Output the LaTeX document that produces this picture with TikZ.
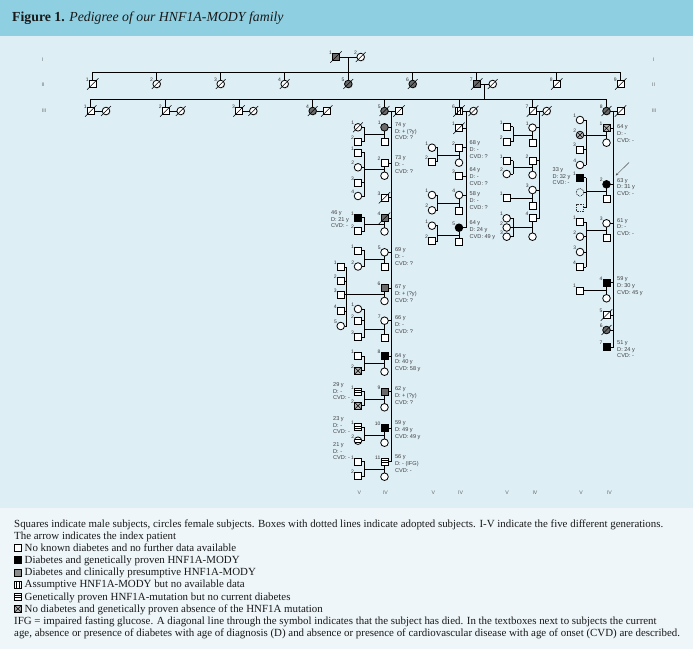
\documentclass[tikz,border=0pt]{standalone}
\usepackage{fontspec}
\setmainfont{Liberation Serif}
\newfontfamily\pedfont{Liberation Sans}
\usetikzlibrary{calc,arrows.meta,shadows}
\definecolor{hdr}{HTML}{8ED0E2}
\definecolor{panel}{HTML}{DDEEF5}
\definecolor{legbg}{HTML}{EEF6F9}
\definecolor{symgray}{HTML}{6A6A6A}
\tikzset{
 ln/.style={line width=0.9pt, draw=black},
 sym/.style={draw=black, line width=0.8pt, fill=white, inner sep=0pt, outer sep=0pt},
 M/.style={sym, rectangle, minimum size=7pt},
 F/.style={sym, circle, minimum size=7.6pt},
 blk/.style={fill=black},
 gry/.style={fill=symgray},
 vstr/.style={path picture={\draw[line width=0.75pt]
   ([xshift=2.3pt]path picture bounding box.south west) -- ([xshift=2.3pt]path picture bounding box.north west)
   ([xshift=-2.3pt]path picture bounding box.south east) -- ([xshift=-2.3pt]path picture bounding box.north east);}},
 hstr/.style={path picture={\draw[line width=0.75pt]
   ([yshift=2.4pt]path picture bounding box.south west) -- ([yshift=2.4pt]path picture bounding box.south east)
   ([yshift=-2.4pt]path picture bounding box.north west) -- ([yshift=-2.4pt]path picture bounding box.north east);}},
 xed/.style={fill=black!30, path picture={\draw[line width=0.6pt]
   (path picture bounding box.south west) -- (path picture bounding box.north east)
   (path picture bounding box.north west) -- (path picture bounding box.south east);}},
 adopt/.style={fill=none, draw=black!80, dash pattern=on 0.8pt off 0.9pt},
 num/.style={label={[lab]150:#1}},
 lab/.style={font=\pedfont\fontsize{5}{5}\selectfont, text=black!80, inner sep=0.4pt},
 ann/.style={font=\pedfont\fontsize{5.6}{6.8}\selectfont, text=black!75, align=left, anchor=north west, inner sep=0pt},
 slash/.style={line width=0.6pt, draw=black},
 shd/.style={drop shadow={shadow xshift=0.7pt, shadow yshift=-0.7pt, opacity=0.35}},
 genl/.style={font=\pedfont\fontsize{5.2}{5.2}\selectfont, text=black!60, inner sep=0pt},
 legtxt/.style={font=\fontsize{10.9}{12}\selectfont, anchor=base west, inner sep=0pt, text=black!90},
 legsym/.style={line width=0.6pt, minimum size=7pt},
}
\newcommand\PM[4]{\node[M,#4] (#1) at (#2,#3) {};}
\newcommand\PF[4]{\node[F,#4] (#1) at (#2,#3) {};}
\newcommand\Dd[1]{\draw[slash] ([shift={(-2.2pt,-2.2pt)}]#1.south west) -- ([shift={(2.2pt,2.2pt)}]#1.north east);}
% #1 IV person, #2 spouse, #3 children-line coordinate, #4 children
\newcommand\Kids[4]{%
 \draw[ln] (#1) -- (#2);
 \coordinate (#1k) at ($(#1)!0.5!(#2)$);
 \draw[ln] (#1k) -- (#1k -| #3);
 \foreach \cc in {#4} {\draw[ln] (\cc.east) -- (\cc -| #3);}
}
\newcommand\Ann[6]{\node[ann] (#1) at (#2,#3) {#4\\#5\\#6};}
\begin{document}
\begin{tikzpicture}[x=1pt,y=-1pt]
\useasboundingbox (0,0) rectangle (693,649);
\fill[hdr] (0,0) rectangle (693,36);
\fill[panel] (0,36) rectangle (693,508);
\fill[legbg] (0,508) rectangle (693,649);
\node[anchor=base west, font=\fontsize{13.8}{15}\selectfont, inner sep=0pt, text=black!90] (title) at (12,21.5)
  {\textbf{Figure 1.} \textit{Pedigree of our HNF1A-MODY family}};

% generation labels
\node[genl] (gIl) at (42.5,59.5) {I};   \node[genl] (gIr) at (653.5,59.5) {I};
\node[genl] (gIIl) at (43,84.3) {II};   \node[genl] (gIIr) at (653.5,84.3) {II};
\node[genl] (gIIIl) at (44,111) {III};  \node[genl] (gIIIr) at (654,111) {III};

% ---------- Generation I
\PM{I1}{336}{57}{gry,num=1,shd}
\PF{I2}{360.7}{57}{num=2,shd}
\coordinate (mI) at (348.3,57);
\coordinate (sIIa) at (92.7,72.3);
\coordinate (sIIb) at (620.7,72.3);
\draw[ln] (I1) -- (I2);
\draw[ln] (mI) -- (mI |- sIIa);
\draw[ln] (sIIa) -- (sIIb);

% ---------- Generation II
\PM{II1}{92.7}{84}{num=1,shd}
\PF{II2}{156.7}{84}{num=2,shd}
\PF{II3}{220.7}{84}{num=3,shd}
\PF{II4}{284.7}{84}{num=4,shd}
\PF{II5}{348.3}{84}{gry,num=5,shd}
\PF{II6}{412.7}{84}{gry,num=6,shd}
\PM{II7}{476.7}{84}{gry,num=7,shd}
\PF{II7s}{492.7}{84}{shd}
\PM{II8}{556.7}{84}{num=8,shd}
\PM{II9}{620.7}{84}{num=9,shd}
\foreach \k in {II1,II2,II3,II4,II5,II6,II7,II8,II9} {\draw[ln] (\k |- sIIa) -- (\k);}
\draw[ln] (II7) -- (II7s);
\coordinate (mII) at (484.7,84);
\coordinate (sIIIa) at (90.7,99.3);
\coordinate (sIIIb) at (606.5,99.3);
\draw[ln] (mII) -- (mII |- sIIIa);
\draw[ln] (sIIIa) -- (sIIIb);

% ---------- Generation III
\PM{III1}{90.7}{111}{num=1,shd}   \PF{III1s}{106}{111}{shd}
\PM{III2}{165.7}{111}{num=2,shd}  \PF{III2s}{180.7}{111}{shd}
\PM{III3}{239}{111}{num=3,shd}    \PF{III3s}{253.3}{111}{shd}
\PF{III4}{312.7}{111}{gry,num=4,shd} \PM{III4s}{326.7}{111}{shd}
\PF{III5}{384.5}{111}{gry,num=5,shd} \PM{III5s}{399}{111}{shd}
\PM{III6}{459}{111}{vstr,num=6,shd}  \PF{III6s}{473.5}{111}{shd}
\PM{III7}{532.5}{111}{num=7,shd}  \PF{III7s}{546.7}{111}{shd}
\PF{III8}{606.5}{111}{gry,num=8,shd} \PM{III8s}{620.5}{111}{shd}
\foreach \k in {III1,III2,III3,III4,III5,III6,III7,III8} {\draw[ln] (\k |- sIIIa) -- (\k); \draw[ln] (\k) -- (\k s);}

% ---------- column lines
\coordinate (c1) at (391.75,111);
\coordinate (c2) at (466.25,111);
\coordinate (c3) at (539.6,111);
\coordinate (c4) at (613.5,111);
\coordinate (cl1) at (364.5,0);
\coordinate (cl1b) at (346.5,0);
\coordinate (cl2) at (437.5,0);
\coordinate (cl3) at (513,0);
\coordinate (cl4) at (586,0);

% ---------- Column 1
\PF{A1}{384.5}{127.3}{gry,num=1}  \PM{A1s}{384.5}{141.7}{}
\PF{A1a}{358}{127.3}{num=1}       \PM{A1b}{358}{141.7}{num=2}
\PM{A2}{384.5}{163.3}{num=2}      \PF{A2s}{384.5}{175.7}{}
\PM{A2a}{358}{152.7}{num=1} \PF{A2b}{358}{167.3}{num=2} \PM{A2c}{358}{182.7}{num=3} \PF{A2d}{358}{196}{num=4}
\PM{A3}{384.5}{197.7}{num=3}
\PM{A4}{384.5}{218.3}{gry,num=4}  \PF{A4s}{384.5}{231.5}{}
\PM{A4a}{358}{217.7}{blk,num=1}   \PM{A4b}{358}{231}{num=2}
\PF{A5}{384.5}{252.3}{num=5}      \PM{A5s}{384.5}{267.3}{}
\PM{A5a}{358}{250.7}{num=1}       \PF{A5b}{358}{266.5}{num=2}
\PM{A6}{384.5}{288.3}{gry,num=6}  \PF{A6s}{384.5}{301}{}
\PM{A6a}{340.7}{267.3}{num=1} \PM{A6b}{340.7}{281}{num=2} \PM{A6c}{340.7}{294.7}{num=3}
\PM{A6d}{340.7}{311}{num=4} \PF{A6e}{340.7}{326}{num=5}
\PF{A7}{384.5}{320.7}{num=7}      \PM{A7s}{384.5}{338.3}{}
\PF{A7a}{358}{309}{num=1} \PM{A7b}{358}{320.7}{num=2} \PM{A7c}{358}{337.3}{num=3}
\PM{A8}{384.5}{356}{blk,num=8}    \PF{A8s}{384.5}{371.7}{}
\PM{A8a}{358}{356}{num=1}         \PM{A8b}{358}{370.7}{xed,num=2}
\PM{A9}{384.5}{391.7}{gry,num=9}  \PF{A9s}{384.5}{407.3}{}
\PM{A9a}{358}{391.7}{hstr,num=1}  \PM{A9b}{358}{405.7}{xed,num=2}
\PM{A10}{384.5}{428.3}{blk,num=10} \PF{A10s}{384.5}{442.7}{}
\PM{A10a}{358}{427.3}{hstr,num=1} \PF{A10b}{358}{440.7}{hstr,num=2}
\PM{A11}{384.5}{461.7}{hstr,num=11} \PF{A11s}{384.5}{476.7}{}
\PM{A11a}{358}{461.7}{num=1}      \PM{A11b}{358}{476}{num=2}
\draw[ln] (c1) -- (c1 |- A11);
\foreach \k in {A1,A2,A3,A4,A5,A6,A7,A8,A9,A10,A11} {\draw[ln] (\k.east) -- (\k -| c1);}
\Kids{A1}{A1s}{cl1}{A1a,A1b}   \draw[ln] (A1a -| cl1) -- (A1b -| cl1);
\Kids{A2}{A2s}{cl1}{A2a,A2b,A2c,A2d} \draw[ln] (A2a -| cl1) -- (A2d -| cl1);
\Kids{A4}{A4s}{cl1}{A4a,A4b}   \draw[ln] (A4a -| cl1) -- (A4b -| cl1);
\Kids{A5}{A5s}{cl1}{A5a,A5b}   \draw[ln] (A5a -| cl1) -- (A5b -| cl1);
\Kids{A6}{A6s}{cl1b}{A6a,A6b,A6c,A6d,A6e} \draw[ln] (A6a -| cl1b) -- (A6e -| cl1b);
\Kids{A7}{A7s}{cl1}{A7a,A7b,A7c} \draw[ln] (A7a -| cl1) -- (A7c -| cl1);
\Kids{A8}{A8s}{cl1}{A8a,A8b}   \draw[ln] (A8a -| cl1) -- (A8b -| cl1);
\Kids{A9}{A9s}{cl1}{A9a,A9b}   \draw[ln] (A9a -| cl1) -- (A9b -| cl1);
\Kids{A10}{A10s}{cl1}{A10a,A10b} \draw[ln] (A10a -| cl1) -- (A10b -| cl1);
\Kids{A11}{A11s}{cl1}{A11a,A11b} \draw[ln] (A11a -| cl1) -- (A11b -| cl1);

% ---------- Column 2
\PM{B1}{459}{128.3}{num=1}
\PM{B2}{459}{147.7}{num=2}  \PF{B2s}{459}{162.7}{}
\PF{B2a}{432}{147.7}{num=1} \PM{B2b}{432}{161.7}{num=2}
\PM{B3}{459}{176}{num=3}
\PF{B4}{459}{195}{num=4}    \PM{B4s}{459}{211}{}
\PF{B4a}{432}{195}{num=1}   \PF{B4b}{432}{210.3}{num=2}
\PF{B5}{459}{227.7}{blk,num=5} \PM{B5s}{459}{242.3}{}
\PF{B5a}{432}{225.7}{num=1} \PM{B5b}{432}{241}{num=2}
\draw[ln] (c2) -- (c2 |- B5);
\foreach \k in {B1,B2,B3,B4,B5} {\draw[ln] (\k.east) -- (\k -| c2);}
\Kids{B2}{B2s}{cl2}{B2a,B2b} \draw[ln] (B2a -| cl2) -- (B2b -| cl2);
\Kids{B4}{B4s}{cl2}{B4a,B4b} \draw[ln] (B4a -| cl2) -- (B4b -| cl2);
\Kids{B5}{B5s}{cl2}{B5a,B5b} \draw[ln] (B5a -| cl2) -- (B5b -| cl2);

% ---------- Column 3
\PF{C1}{532.5}{127.7}{num=1}  \PM{C1s}{532.5}{142.7}{}
\PM{C1a}{506.7}{126.7}{num=1} \PM{C1b}{506.7}{141.7}{num=2}
\PM{C2}{532.5}{160.7}{num=2}  \PF{C2s}{532.5}{175}{}
\PM{C2a}{506.7}{160.7}{num=1} \PF{C2b}{506.7}{174}{num=2}
\PF{C3}{532.5}{190}{num=3}    \PM{C3s}{532.5}{206}{}
\PM{C3a}{506.7}{198}{num=1}
\PM{C4}{532.5}{218.3}{num=4}  \PF{C4s}{532.5}{236.7}{}
\PF{C4a}{506.7}{218.3}{num=1} \PF{C4b}{506.7}{227.5}{num=2} \PF{C4c}{506.7}{236.7}{num=3}
\draw[ln] (c3) -- (c3 |- C4);
\foreach \k in {C1,C2,C3,C4} {\draw[ln] (\k.east) -- (\k -| c3);}
\Kids{C1}{C1s}{cl3}{C1a,C1b} \draw[ln] (C1a -| cl3) -- (C1b -| cl3);
\Kids{C2}{C2s}{cl3}{C2a,C2b} \draw[ln] (C2a -| cl3) -- (C2b -| cl3);
\draw[ln] (C3) -- (C3s);
\coordinate (C3k) at ($(C3)!0.5!(C3s)$);
\draw[ln] (C3a.east) -- (C3k);
\Kids{C4}{C4s}{cl3}{C4a,C4b,C4c} \draw[ln] (C4a -| cl3) -- (C4c -| cl3);

% ---------- Column 4
\PM{D1}{606.5}{128.3}{xed,num=1} \PF{D1s}{606.5}{142.7}{}
\PF{D1a}{580}{120}{num=1} \PF{D1b}{580}{135}{xed,num=2} \PM{D1c}{580}{149.5}{num=3} \PF{D1d}{580}{165}{num=4}
\PF{D2}{606.5}{184.3}{blk,num=2} \PM{D2s}{606.5}{199}{}
\PM{D2a}{580}{177.7}{blk,num=1} \PF{D2b}{580}{192.3}{adopt} \PM{D2c}{580}{207.7}{adopt}
\PF{D3}{606.5}{223.3}{num=3} \PM{D3s}{606.5}{238.3}{}
\PM{D3a}{580}{222.3}{num=1} \PF{D3b}{580}{236.7}{num=2} \PF{D3c}{580}{252}{num=3} \PM{D3d}{580}{267.3}{num=4}
\PM{D4}{606.5}{282.7}{blk,num=4} \PF{D4s}{606.5}{298.3}{}
\PM{D4a}{580}{290.5}{num=1}
\PM{D5}{606.5}{315}{num=5}
\PF{D6}{606.5}{330}{gry,num=6}
\PM{D7}{606.5}{347.3}{blk,num=7}
\draw[ln] (c4) -- (c4 |- D7);
\foreach \k in {D1,D2,D3,D4,D5,D6,D7} {\draw[ln] (\k.east) -- (\k -| c4);}
\Kids{D1}{D1s}{cl4}{D1a,D1b,D1c,D1d} \draw[ln] (D1a -| cl4) -- (D1d -| cl4);
\Kids{D2}{D2s}{cl4}{D2a,D2b,D2c} \draw[ln] (D2a -| cl4) -- (D2c -| cl4);
\Kids{D3}{D3s}{cl4}{D3a,D3b,D3c,D3d} \draw[ln] (D3a -| cl4) -- (D3d -| cl4);
\draw[ln] (D4) -- (D4s);
\coordinate (D4k) at ($(D4)!0.5!(D4s)$);
\draw[ln] (D4a.east) -- (D4k);
% index patient arrow
\coordinate (arrS) at (629,162.5);
\coordinate (arrE) at (615.8,175.5);
\draw[-{Stealth[length=2.6pt,width=2.2pt]}, line width=0.45pt, draw=black!70] (arrS) -- (arrE);

% ---------- deceased slashes
\foreach \k in {I1,I2,II1,II2,II3,II4,II5,II6,II7,II7s,II8,II9,
  III1,III1s,III2,III2s,III3,III3s,III4,III4s,III5,III5s,III6,III6s,III7,III7s,III8,III8s,
  A1a,A3,A4,B1,D5,D6} {\Dd{\k}}

% ---------- annotations
\Ann{tA1}{394.8}{122.3}{74 y}{D: + (?y)}{CVD: ?}
\Ann{tA2}{394.8}{155.5}{73 y}{D: -}{CVD: ?}
\Ann{tA5}{394.8}{247.3}{69 y}{D: -}{CVD: ?}
\Ann{tA6}{394.8}{284.3}{67 y}{D: + (?y)}{CVD: ?}
\Ann{tA7}{394.8}{315.8}{66 y}{D: -}{CVD: ?}
\Ann{tA8}{394.8}{353}{64 y}{D: 40 y}{CVD: 58 y}
\Ann{tA9}{394.8}{386.7}{62 y}{D: + (?y)}{CVD: ?}
\Ann{tA10}{394.8}{420.3}{59 y}{D: 49 y}{CVD: 49 y}
\Ann{tA11}{394.8}{454.7}{56 y}{D: - (IFG)}{CVD: -}
\Ann{tA4a}{331}{210.2}{46 y}{D: 21 y}{CVD: -}
\Ann{tA9a}{333}{382.2}{29 y}{D: -}{CVD: -}
\Ann{tA10a}{333}{416.2}{23 y}{D: -}{CVD: -}
\Ann{tA10b}{333}{442.2}{21 y}{D: -}{CVD: -}
\Ann{tB2}{469.5}{140.7}{68 y}{D: -}{CVD: ?}
\Ann{tB3}{469.5}{167.5}{64 y}{D: -}{CVD: ?}
\Ann{tB4}{469.5}{191.5}{58 y}{D: -}{CVD: ?}
\Ann{tB5}{469.5}{220.3}{64 y}{D: 24 y}{CVD: 49 y}
\Ann{tD1}{617}{124.5}{64 y}{D: -}{CVD: -}
\Ann{tD2}{617}{178}{63 y}{D: 31 y}{CVD: -}
\Ann{tD3}{617}{218}{61 y}{D: -}{CVD: -}
\Ann{tD4}{617}{276.3}{59 y}{D: 30 y}{CVD: 45 y}
\Ann{tD7}{617}{340.3}{51 y}{D: 24 y}{CVD: -}
\Ann{tD2a}{552.5}{167.2}{33 y}{D: 32 y}{CVD: -}

% ---------- bottom generation labels
\node[genl] (bV1) at (359.3,493) {V};   \node[genl] (bIV1) at (385.3,493) {IV};
\node[genl] (bV2) at (433.3,493) {V};   \node[genl] (bIV2) at (460.7,493) {IV};
\node[genl] (bV3) at (507,493) {V};     \node[genl] (bIV3) at (535,493) {IV};
\node[genl] (bV4) at (581,493) {V};     \node[genl] (bIV4) at (609.3,493) {IV};

% ---------- legend
\node[legtxt] (L1) at (14,527.3) {Squares indicate male subjects, circles female subjects. Boxes with dotted lines indicate adopted subjects. I-V indicate the five different generations.};
\node[legtxt] (L2) at (14,539.3) {The arrow indicates the index patient};
\node[M,legsym] (S3) at (18,548) {};
\node[legtxt] (L3) at (24.5,551.3) {No known diabetes and no further data available};
\node[M,legsym,blk] (S4) at (18,560) {};
\node[legtxt] (L4) at (24.5,563.3) {Diabetes and genetically proven HNF1A-MODY};
\node[M,legsym,fill=black!45] (S5) at (18,572.3) {};
\node[legtxt] (L5) at (24.5,575.6) {Diabetes and clinically presumptive HNF1A-MODY};
\node[M,legsym,vstr] (S6) at (18,584.5) {};
\node[legtxt] (L6) at (24.5,587.8) {Assumptive HNF1A-MODY but no available data};
\node[M,legsym,hstr] (S7) at (18,596.7) {};
\node[legtxt] (L7) at (24.5,600) {Genetically proven HNF1A-mutation but no current diabetes};
\node[M,legsym,xed] (S8) at (18,608.8) {};
\node[legtxt] (L8) at (24.5,612.1) {No diabetes and genetically proven absence of the HNF1A mutation};
\node[legtxt] (L9) at (14,624.2) {IFG = impaired fasting glucose. A diagonal line through the symbol indicates that the subject has died. In the textboxes next to subjects the current};
\node[legtxt] (L10) at (14,636.3) {age, absence or presence of diabetes with age of diagnosis (D) and absence or presence of cardiovascular disease with age of onset (CVD) are described.};
\end{tikzpicture}
\end{document}
